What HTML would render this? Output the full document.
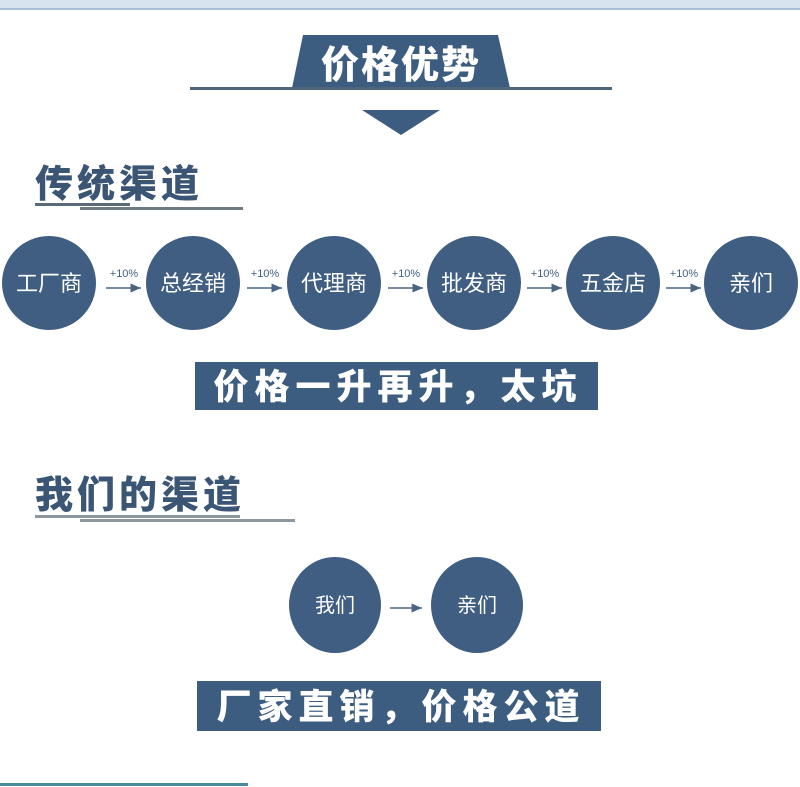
<!DOCTYPE html>
<html><head><meta charset="utf-8"><style>
html,body{margin:0;padding:0;background:#fff;}
svg{display:block;}
text{font-family:"Liberation Sans","Noto Sans CJK SC",sans-serif;}
.b{font-family:"Noto Sans CJK SC","WenQuanYi Zen Hei",sans-serif;font-weight:900;}
</style></head><body>
<svg width="800" height="787" viewBox="0 0 800 787" xmlns="http://www.w3.org/2000/svg">
<defs><marker id="a" markerWidth="8" markerHeight="8" refX="7" refY="4" orient="auto"><path d="M0,1 L7,4 L0,7 z" fill="#4a6584"/></marker></defs>
<rect x="0" y="0" width="800" height="9" fill="#d7e3ef"/>
<rect x="0" y="8" width="800" height="2" fill="#a9bed3"/>
<polygon points="303,35 498,35 510,88 292,88" fill="#3d5d80"/>
<rect x="190" y="87" width="422" height="3" fill="#4f6578"/>
<text x="401" y="78" text-anchor="middle" class="b" font-size="38" fill="#fff" letter-spacing="2">价格优势</text>
<polygon points="362,110 440,110 401,135" fill="#3d5d80"/>
<text x="35" y="197" class="b" font-size="38" fill="#3b5675" letter-spacing="4">传统渠道</text>
<rect x="35" y="203" width="95" height="3" fill="#5a6a78"/>
<rect x="80" y="207" width="163" height="3" fill="#6d7a85"/>
<g fill="#3f5e82">
<circle cx="49" cy="283" r="47"/><circle cx="193" cy="283" r="47"/><circle cx="334" cy="283" r="47"/>
<circle cx="474" cy="283" r="47"/><circle cx="613" cy="283" r="47"/><circle cx="751" cy="283" r="47"/>
</g>
<g fill="#fff" font-size="22" text-anchor="middle">
<text x="49" y="291">工厂商</text><text x="193" y="291">总经销</text><text x="334" y="291">代理商</text>
<text x="474" y="291">批发商</text><text x="613" y="291">五金店</text><text x="751" y="291">亲们</text>
</g>
<g stroke="#4a6584" stroke-width="1.5" marker-end="url(#a)">
<line x1="106" y1="288" x2="141" y2="288"/><line x1="247" y1="288" x2="282" y2="288"/>
<line x1="388" y1="288" x2="423" y2="288"/><line x1="527" y1="288" x2="562" y2="288"/>
<line x1="666" y1="288" x2="701" y2="288"/>
</g>
<g fill="#3f5e82" font-size="11" text-anchor="middle">
<text x="124" y="277">+10%</text><text x="265" y="277">+10%</text><text x="406" y="277">+10%</text>
<text x="545" y="277">+10%</text><text x="684" y="277">+10%</text>
</g>
<rect x="195" y="362" width="403" height="48" fill="#3d5d80"/>
<text x="398" y="399" text-anchor="middle" class="b" font-size="35" fill="#fff" letter-spacing="6">价格一升再升，太坑</text>
<text x="35" y="508" class="b" font-size="38" fill="#3b5675" letter-spacing="4">我们的渠道</text>
<rect x="35" y="515" width="205" height="3" fill="#8c979f"/>
<rect x="80" y="519" width="215" height="3" fill="#8c979f"/>
<g fill="#3f5e82">
<ellipse cx="335" cy="605" rx="46" ry="48"/><ellipse cx="477" cy="605" rx="46" ry="48"/>
</g>
<g fill="#fff" font-size="20" text-anchor="middle">
<text x="335" y="612">我们</text><text x="477" y="612">亲们</text>
</g>
<line x1="390" y1="608" x2="422" y2="608" stroke="#4a6584" stroke-width="1.5" marker-end="url(#a)"/>
<rect x="197" y="681" width="404" height="50" fill="#3d5d80"/>
<text x="401" y="719" text-anchor="middle" class="b" font-size="35" fill="#fff" letter-spacing="6">厂家直销，价格公道</text>
<rect x="0" y="783" width="248" height="3" fill="#4a8aa0"/>
</svg>
</body></html>
